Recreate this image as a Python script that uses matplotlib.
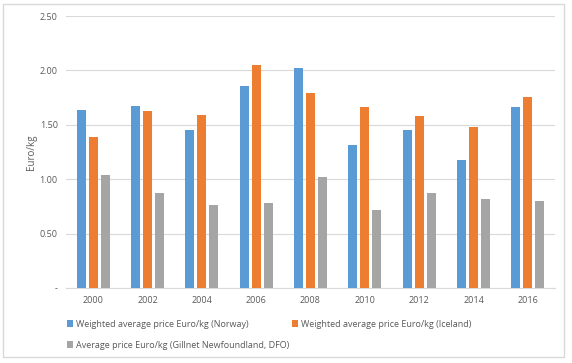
import matplotlib.pyplot as plt
import numpy as np
from matplotlib.patches import Rectangle

years = ['2000', '2002', '2004', '2006', '2008', '2010', '2012', '2014', '2016']
norway = [1.64, 1.67, 1.45, 1.86, 2.02, 1.31, 1.45, 1.18, 1.66]
iceland = [1.39, 1.63, 1.59, 2.05, 1.79, 1.66, 1.58, 1.48, 1.76]
gillnet = [1.04, 0.87, 0.76, 0.78, 1.02, 0.72, 0.87, 0.82, 0.80]
labels = ['Weighted average price Euro/kg (Norway)',
          'Weighted average price Euro/kg (Iceland)',
          'Average price Euro/kg (Gillnet Newfoundland, DFO)']
colors = ['#5b9bd5', '#ed7d31', '#a5a5a5']
yticks = [0, 0.5, 1.0, 1.5, 2.0, 2.5]
ytick_labels = ['-', '0.50', '1.00', '1.50', '2.00', '2.50']

plt.rcParams['font.family'] = ['Open Sans', 'DejaVu Sans']
txt = '#595959'

fig = plt.figure(figsize=(5.72, 3.63), dpi=100)
ax = fig.add_axes([66/572, 1-288/363, (555-66)/572, (288-16)/363])

# chart frame
fig.patches.append(Rectangle((3/572, 1-357/363), 561/572, 353/363,
                             transform=fig.transFigure, fill=False,
                             edgecolor='#d9d9d9', linewidth=1))

x = np.arange(len(years))
w = 0.165
step = 0.22
for i, (vals, lab, c) in enumerate(zip([norway, iceland, gillnet], labels, colors)):
    ax.bar(x + (i - 1) * step, vals, w, color=c, label=lab, zorder=3)

ax.set_xlim(-0.5, len(years) - 0.5)
ax.set_ylim(0, 2.5)
ax.set_yticks(yticks)
ax.set_yticklabels(ytick_labels)
ax.set_xticks(x)
ax.set_xticklabels(years)
ax.tick_params(axis='both', length=0, labelsize=6.5, colors=txt, pad=6)
ax.grid(axis='y', color='#d9d9d9', linewidth=0.8, zorder=0)
for s in ['top', 'right', 'left']:
    ax.spines[s].set_visible(False)
ax.spines['bottom'].set_color('#d9d9d9')
ax.set_ylabel('Euro/kg', fontsize=7, color=txt, labelpad=2)

# legend: row 1 Norway, Iceland; row 2 Gillnet (matplotlib fills by column)
h, l = ax.get_legend_handles_labels()
order = [0, 2, 1]
fig.legend([h[k] for k in order], [l[k] for k in order], ncol=2, loc='upper left',
           bbox_to_anchor=(62/572, 1-315/363), frameon=False,
           fontsize=6.5, labelcolor=txt, handlelength=0.7, handleheight=0.7,
           handletextpad=0.3, columnspacing=0.3, borderpad=0, labelspacing=1.35)

fig.savefig('out.png', dpi=100)
